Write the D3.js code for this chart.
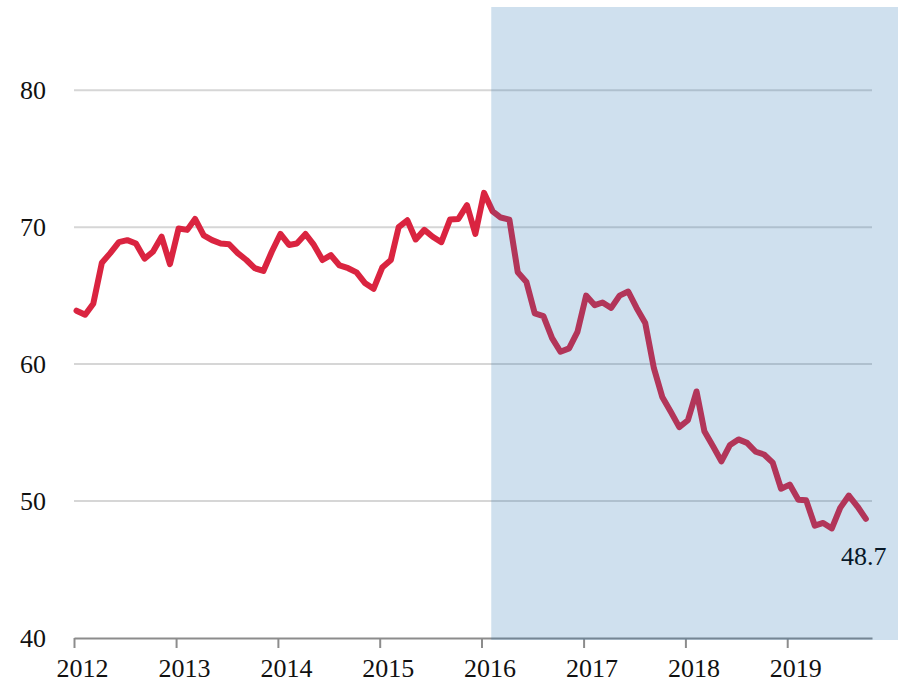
<!DOCTYPE html>
<html lang="en">
<head>
    <meta charset="UTF-8">
    <title>Index</title>
    <script src="https://d3js.org/d3.v7.min.js"></script>
    <style>
        body{
            margin: 0;
            background: #fff;
        }
        svg text{
            font-family: "Liberation Serif", "DejaVu Serif", serif;
            font-size: 26px;
        }
    </style>
</head>
<body>
    <div id="chart"></div>

    <script>
        // monthly values, Jan 2012 - Oct 2019
        const startMonth = new Date(2012, 0, 10);
        const values = [
            63.9, 63.6, 64.4, 67.4, 68.1, 68.9, 69.05, 68.8, 67.7, 68.2, 69.3, 67.3,
            69.9, 69.8, 70.6, 69.4, 69.05, 68.8, 68.75, 68.1, 67.6, 67.0, 66.8, 68.2,
            69.5, 68.7, 68.8, 69.5, 68.7, 67.6, 67.95, 67.2, 67.0, 66.7, 65.9, 65.5,
            67.05, 67.6, 70.0, 70.5, 69.1, 69.8, 69.3, 68.9, 70.55, 70.6, 71.6, 69.5,
            72.5, 71.15, 70.7, 70.55, 66.7, 66.0, 63.7, 63.5, 61.9, 60.9, 61.15, 62.35,
            65.0, 64.3, 64.5, 64.1, 65.0, 65.3, 64.1, 63.0, 59.7, 57.6, 56.5, 55.4,
            55.9, 58.0, 55.1, 54.0, 52.9, 54.1, 54.5, 54.25, 53.6, 53.4, 52.8, 50.9,
            51.2, 50.1, 50.05, 48.2, 48.4, 48.0, 49.5, 50.4, 49.6, 48.7
        ];
        const yTicks = [40, 50, 60, 70, 80];
        const xTickYears = [2012, 2013, 2014, 2015, 2016, 2017, 2018, 2019];
        const shadeStart = new Date(2016, 1, 5);
        const endLabel = "48.7";

        const data = values.map((v, i) => ({ date: d3.timeMonth.offset(startMonth, i), value: v }));

        const width = 900;
        const height = 691;
        const margin = { top: 8, right: 28, bottom: 53, left: 74 };

        const svg = d3.select("#chart")
            .append("svg")
            .attr("width", width)
            .attr("height", height);

        const x = d3.scaleTime()
            .domain([new Date(2012, 0, 1), new Date(2019, 10, 1)])
            .range([margin.left, width - margin.right]);

        const y = d3.scaleLinear()
            .domain([40, 86])
            .range([height - margin.bottom, margin.top]);

        // gridlines
        svg.selectAll(".grid")
            .data(yTicks.filter(d => d !== 40))
            .enter().append("line")
            .attr("class", "grid")
            .attr("x1", x.range()[0])
            .attr("x2", x.range()[1])
            .attr("y1", d => y(d))
            .attr("y2", d => y(d))
            .attr("stroke", "#d6d6d6")
            .attr("stroke-width", 2);

        // y labels
        svg.selectAll(".ylabel")
            .data(yTicks)
            .enter().append("text")
            .attr("class", "ylabel")
            .attr("x", 46)
            .attr("y", d => y(d))
            .attr("dy", "0.35em")
            .attr("text-anchor", "end")
            .attr("fill", "#111")
            .text(d => d);

        // x axis
        const xAxis = d3.axisBottom(x)
            .tickValues(xTickYears.map(yr => new Date(yr, 0, 1)))
            .tickFormat(d3.timeFormat("%Y"))
            .tickSize(10)
            .tickSizeOuter(0);

        const gx = svg.append("g")
            .attr("transform", `translate(0,${y(40)})`)
            .call(xAxis);
        gx.select(".domain").attr("stroke", "#8c8c8c").attr("stroke-width", 2);
        gx.selectAll(".tick line").attr("stroke", "#8c8c8c").attr("stroke-width", 2);
        gx.selectAll(".tick text")
            .attr("font-family", null)
            .attr("font-size", null)
            .attr("fill", "#111")
            .attr("dx", 8)
            .attr("y", 21)
            .attr("dy", "0.71em");

        // line
        const line = d3.line()
            .x(d => x(d.date))
            .y(d => y(d.value));

        svg.append("path")
            .datum(data)
            .attr("d", line)
            .attr("fill", "none")
            .attr("stroke", "#da2440")
            .attr("stroke-width", 6)
            .attr("stroke-linejoin", "round")
            .attr("stroke-linecap", "round");

        // end label
        const last = data[data.length - 1];
        svg.append("text")
            .attr("x", x(last.date) - 2)
            .attr("y", y(last.value) + 46)
            .attr("text-anchor", "middle")
            .attr("fill", "#000")
            .text(endLabel);

        // shaded period, drawn over the line
        svg.append("rect")
            .attr("x", x(shadeStart))
            .attr("y", y(86) - 1)
            .attr("width", width - 2 - x(shadeStart))
            .attr("height", y(40) - y(86) + 3)
            .attr("fill", "rgb(37,114,178)")
            .attr("fill-opacity", 0.22);
    </script>
</body>
</html>
